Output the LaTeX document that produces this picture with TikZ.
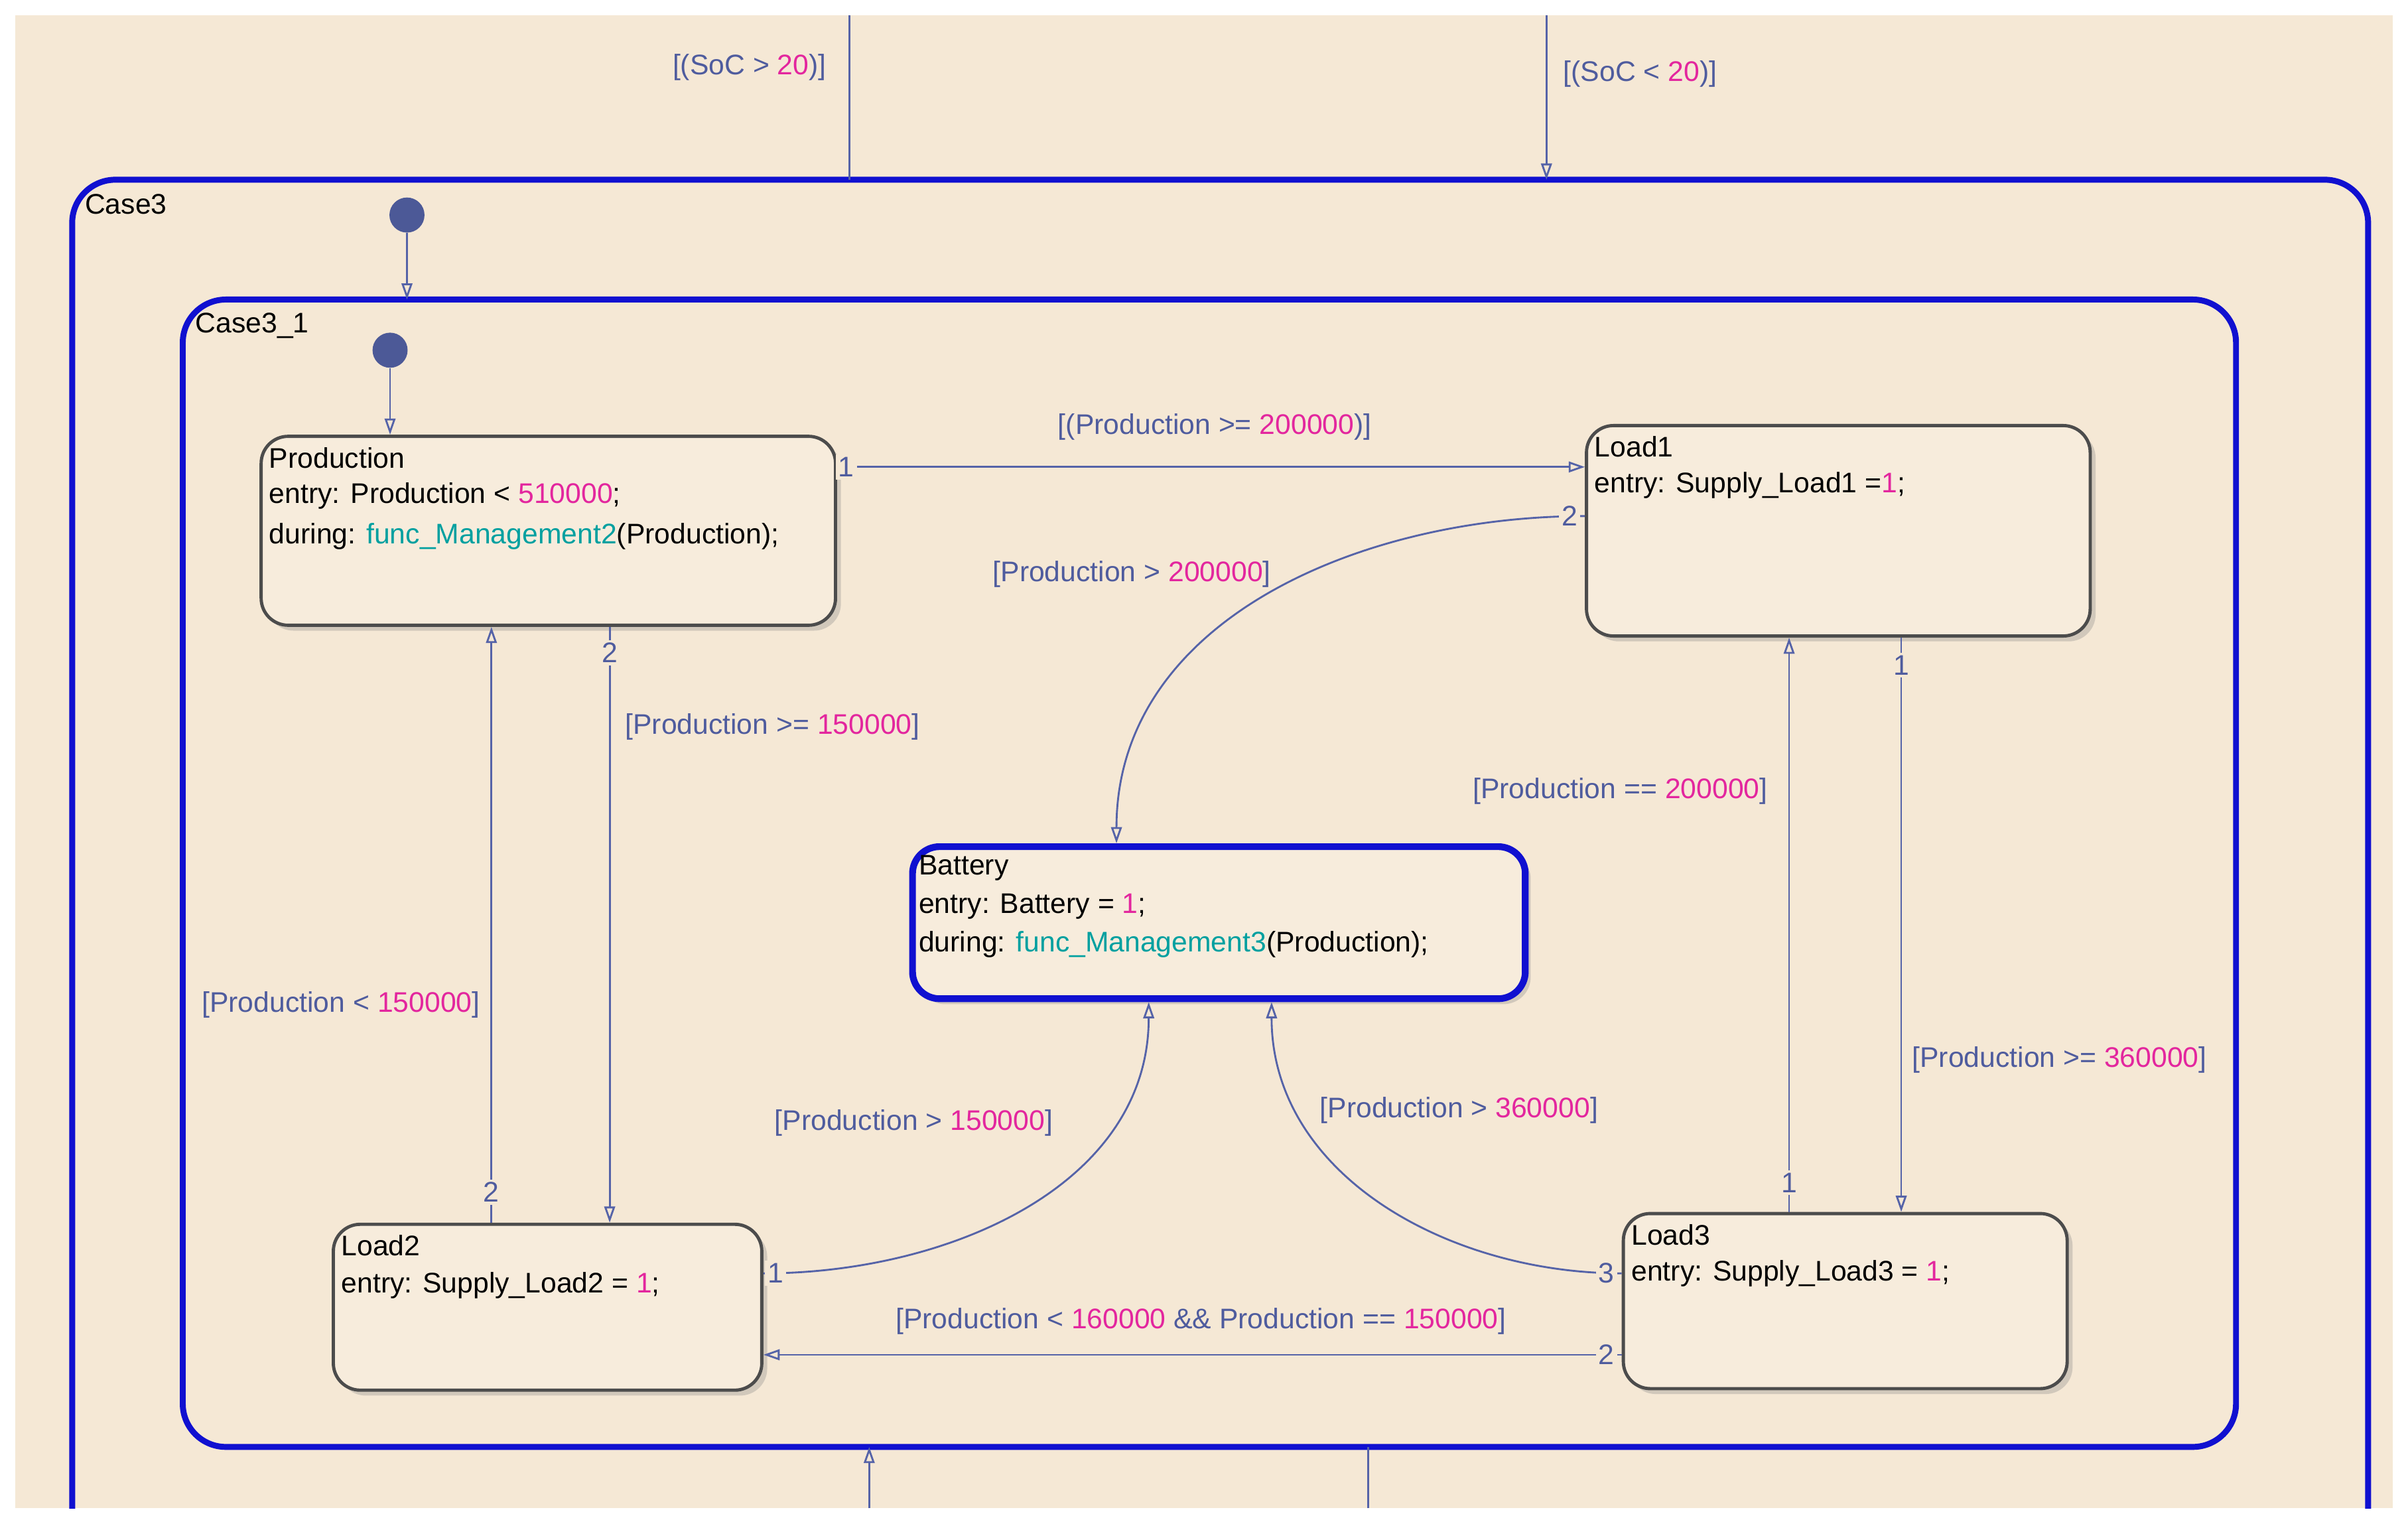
\documentclass[tikz,border=0pt]{standalone}
\usepackage{fontspec}
\setmainfont{Liberation Sans}
\usetikzlibrary{arrows.meta,shadows}
\definecolor{bg}{HTML}{F5E8D5}
\definecolor{boxf}{HTML}{F7ECDC}
\definecolor{tr}{HTML}{5563A8}
\definecolor{lab}{HTML}{4F5C9E}
\definecolor{pk}{HTML}{E3269E}
\definecolor{tl}{HTML}{00A0A0}
\definecolor{stb}{HTML}{1010D0}
\newcommand\pk[1]{\textcolor{pk}{#1}}
\newcommand\tl[1]{\textcolor{tl}{#1}}
\tikzset{
 st/.style={draw=black!70,line width=1.2pt,fill=boxf,rounded corners=10pt,anchor=north west,inner sep=0pt,drop shadow={shadow xshift=2pt,shadow yshift=-2pt,opacity=0.3}},
 txt/.style={anchor=west,inner sep=0pt,font=\fontsize{10.5}{13}\selectfont},
 lbl/.style={text=lab,inner sep=0pt,font=\fontsize{10.5}{13}\selectfont},
 num/.style={text=lab,inner sep=1pt,fill=bg,font=\fontsize{10.5}{13}\selectfont},
 tra/.style={draw=tr,line width=0.7pt,-{Triangle[open,length=6pt,width=4pt]}},
 trn/.style={draw=tr,line width=0.7pt},
 sup/.style={draw=stb,line width=2.2pt,rounded corners=16pt},
 dot/.style={circle,fill=tr!90!black,minimum size=13pt,inner sep=0pt}
}
\begin{document}
\begin{tikzpicture}[x=0.02cm,y=-0.02cm]
\useasboundingbox (0,0) rectangle (1568,992);
\fill[white] (0,0) rectangle (1568,992);
\fill[bg] (10,10) rectangle (1558,982);
\begin{scope}
\clip (0,0) rectangle (1568,982);
\draw[sup] (47,1010) -- (47,117) -- (1542,117) -- (1542,1010);
\end{scope}
\node[txt] (c3) at (55,133) {Case3};
\draw[sup] (119,195) rectangle (1456,942);
\node[txt] (c31) at (127,212) {Case3\_1};
% states
\node[st,minimum width=374*0.02cm,minimum height=123*0.02cm] (prod) at (169,283) {};
\node[txt] at (175,298) {Production};
\node[txt] at (175,323) {entry: Production < \pk{510000};};
\node[txt] at (175,349) {during: \tl{func\_Management2}(Production);};
\node[st,minimum width=328*0.02cm,minimum height=137*0.02cm] (l1) at (1032,276) {};
\node[txt] at (1038,291) {Load1};
\node[txt] at (1038,316) {entry: Supply\_Load1 =\pk{1};};
\node[st,draw=stb,line width=2.5pt,minimum width=399*0.02cm,minimum height=99*0.02cm] (bat) at (592,549) {};
\node[txt] at (598,565) {Battery};
\node[txt] at (598,590) {entry: Battery = \pk{1};};
\node[txt] at (598,615) {during: \tl{func\_Management3}(Production);};
\node[st,minimum width=279*0.02cm,minimum height=108*0.02cm] (l2) at (216,796) {};
\node[txt] at (222,811) {Load2};
\node[txt] at (222,837) {entry: Supply\_Load2 = \pk{1};};
\node[st,minimum width=289*0.02cm,minimum height=114*0.02cm] (l3) at (1056,789) {};
\node[txt] at (1062,804) {Load3};
\node[txt] at (1062,829) {entry: Supply\_Load3 = \pk{1};};
% outer transitions
\coordinate (t1) at (553,10); \coordinate (t1e) at (553,117);
\coordinate (t2) at (1007,10); \coordinate (t2e) at (1007,117);
\draw[trn] (t1e) -- (t1);
\draw[tra] (t2) -- (t2e);
\node[lbl] at (488,44) {[(SoC > \pk{20})]};
\node[lbl] at (1068,48) {[(SoC < \pk{20})]};
\coordinate (b1) at (566,982); \coordinate (b1e) at (566,942);
\coordinate (b2) at (891,942); \coordinate (b2e) at (891,982);
\draw[tra] (b1) -- (b1e);
\draw[trn] (b2) -- (b2e);
% defaults
\node[dot] (d1) at (265,140) {};
\coordinate (d1e) at (265,195);
\draw[tra] (d1) -- (d1e);
\node[dot] (d2) at (254,228) {};
\draw[tra] (d2) -- (254,283);
% inner transitions
\draw[tra] (prod.east |- 0,304) -- (l1.west |- 0,304);
\node[num] at (551,304) {1};
\node[lbl] at (791,278) {[(Production >= \pk{200000})]};
\draw[tra] (l1.west |- 0,336) to[out=180,in=90] (bat.north -| 727,0);
\node[num] at (1022,336) {2};
\node[lbl] at (737,374) {[Production > \pk{200000}]};
\draw[tra] (prod.south -| 397,0) -- (l2.north -| 397,0);
\node[num] at (397,425) {2};
\node[lbl] at (503,473) {[Production >= \pk{150000}]};
\draw[tra] (l2.north -| 320,0) -- (prod.south -| 320,0);
\node[num] at (320,776) {2};
\node[lbl] at (222,654) {[Production < \pk{150000}]};
\draw[tra] (l1.south -| 1238,0) -- (l3.north -| 1238,0);
\node[num] at (1238,433) {1};
\node[lbl] at (1341,690) {[Production >= \pk{360000}]};
\draw[tra] (l3.north -| 1165,0) -- (l1.south -| 1165,0);
\node[num] at (1165,770) {1};
\node[lbl] at (1055,515) {[Production == \pk{200000}]};
\draw[tra] (l2.east |- 0,829) to[out=0,in=-90] (bat.south -| 748,0);
\node[num] at (505,829) {1};
\node[lbl] at (595,731) {[Production > \pk{150000}]};
\draw[tra] (l3.west |- 0,829) to[out=180,in=-90] (bat.south -| 828,0);
\node[num] at (1046,829) {3};
\node[lbl] at (950,723) {[Production > \pk{360000}]};
\draw[tra] (l3.west |- 0,882) -- (l2.east |- 0,882);
\node[num] at (1046,882) {2};
\node[lbl] at (782,860) {[Production < \pk{160000} \&\& Production == \pk{150000}]};
\end{tikzpicture}
\end{document}
